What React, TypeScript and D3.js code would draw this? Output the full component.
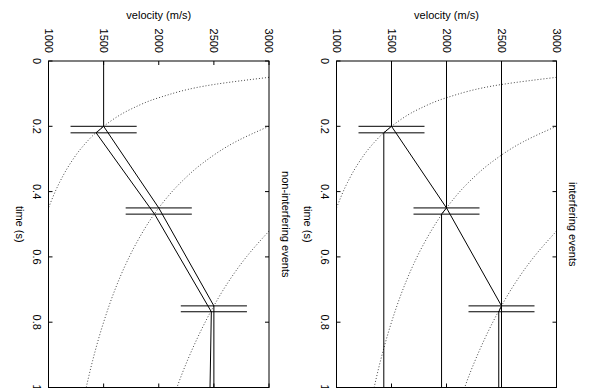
import React from "react";
import * as d3 from "d3";

const W = 590;
const H = 388;

const V_TICKS = [1000, 1500, 2000, 2500, 3000];
const V_LABELS = ["1000", "1500", "2000", "2500", "3000"];
const T_TICKS = [0, 0.2, 0.4, 0.6, 0.8, 1];
const T_LABELS = ["0", "0.2", "0.4", "0.6", "0.8", "1"];

// events (true)
const EVENT_T = [0.2, 0.45, 0.75];
const EVENT_V = [1500, 2000, 2500];
// picked (estimated) events
const PICK_T = [0.22, 0.469, 0.768];
const PICK_V_NONINT = [1432, 1962, 2477];
const PICK_V_INT = [1430, 1955, 2475];
// horizontal error bars
const ERR_LO = [1200, 1700, 2200];
const ERR_HI = [1800, 2300, 2800];

// polyline through the true events
const UPPER_V = [1500, 1500, 2000, 2500, 2500];
const UPPER_T = [0, 0.2, 0.45, 0.75, 1];
// polyline through estimated events (non-interfering)
const NONINT_LOWER_V = [1500, 1432, 1962, 2477, 2465];
const NONINT_LOWER_T = [0.2, 0.22, 0.469, 0.768, 1];

// dotted curves (velocity, time)
const CURVE1_V = [3000, 2500, 2000, 1750, 1500, 1300, 1200, 1100, 1000];
const CURVE1_T = [0.05, 0.072, 0.1125, 0.147, 0.2, 0.266, 0.3125, 0.372, 0.45];
const CURVE2_V = [3000, 2700, 2400, 2200, 2000, 1800, 1700, 1600, 1500, 1400, 1342];
const CURVE2_T = [0.2, 0.247, 0.3125, 0.372, 0.45, 0.556, 0.623, 0.703, 0.8, 0.918, 1.0];
const CURVE3_V = [3000, 2800, 2600, 2500, 2400, 2300, 2200, 2165];
const CURVE3_T = [0.521, 0.598, 0.693, 0.75, 0.814, 0.886, 0.968, 1.0];

const FONT = "'Liberation Sans', Arial, sans-serif";
const TOP = 61;
const BOTTOM = 387.5;

type Pt = [number, number];
const zip = (v: number[], t: number[]): Pt[] => v.map((d, i) => [d, t[i]]);

function Panel({ x0, x1, title, interfering, id }: { x0: number; x1: number; title: string; interfering: boolean; id: string }) {
  const x = d3.scaleLinear().domain([1000, 3000]).range([x0, x1]);
  const y = d3.scaleLinear().domain([0, 1]).range([TOP, BOTTOM]);
  const line = d3.line<Pt>().x((d) => x(d[0])).y((d) => y(d[1]));
  const curve = d3.line<Pt>().x((d) => x(d[0])).y((d) => y(d[1])).curve(d3.curveMonotoneY);
  const midY = (TOP + BOTTOM) / 2;
  const midX = (x0 + x1) / 2;
  const tick = 4;

  const solid: Pt[][] = [];
  solid.push(zip(UPPER_V, UPPER_T));
  if (!interfering) {
    solid.push(zip(NONINT_LOWER_V, NONINT_LOWER_T));
  } else {
    EVENT_V.forEach((v, i) => {
      solid.push([
        [v, 0],
        [v, EVENT_T[i]],
        [PICK_V_INT[i], PICK_T[i]],
        [PICK_V_INT[i], 1],
      ]);
    });
  }
  const bars: Pt[][] = [];
  EVENT_T.forEach((t, i) => {
    bars.push([[ERR_LO[i], t], [ERR_HI[i], t]]);
    bars.push([[ERR_LO[i], PICK_T[i]], [ERR_HI[i], PICK_T[i]]]);
  });

  const curves = [zip(CURVE1_V, CURVE1_T), zip(CURVE2_V, CURVE2_T), zip(CURVE3_V, CURVE3_T)];

  return (
    <g>
      <defs>
        <clipPath id={id}>
          <rect x={x0} y={TOP} width={x1 - x0} height={BOTTOM - TOP} />
        </clipPath>
      </defs>
      <g clipPath={`url(#${id})`}>
        {curves.map((c, i) => (
          <path key={i} d={curve(c) || ""} fill="none" stroke="#444" strokeWidth={1} strokeDasharray="1 2" />
        ))}
        {solid.map((s, i) => (
          <path key={i} d={line(s) || ""} fill="none" stroke="#000" strokeWidth={1} />
        ))}
        {bars.map((s, i) => (
          <path key={i} d={line(s) || ""} fill="none" stroke="#000" strokeWidth={1} />
        ))}
      </g>
      {/* frame */}
      <rect x={x0} y={TOP} width={x1 - x0} height={BOTTOM - TOP} fill="none" stroke="#000" strokeWidth={1} />
      {V_TICKS.map((v, i) => (
        <g key={i}>
          <line x1={x(v)} x2={x(v)} y1={TOP} y2={TOP + tick} stroke="#000" />
          <line x1={x(v)} x2={x(v)} y1={BOTTOM} y2={BOTTOM - tick} stroke="#000" />
          <text
            transform={`translate(${x(v)},53) rotate(90)`}
            textAnchor="end"
            dominantBaseline="central"
            fontSize={11}
            fontFamily={FONT}
          >
            {V_LABELS[i]}
          </text>
        </g>
      ))}
      {T_TICKS.map((t, i) => (
        <g key={i}>
          <line x1={x0} x2={x0 + tick} y1={y(t)} y2={y(t)} stroke="#000" />
          <line x1={x1} x2={x1 - tick} y1={y(t)} y2={y(t)} stroke="#000" />
          <text
            transform={`translate(${x0 - 12},${y(t)}) rotate(90)`}
            textAnchor="middle"
            dominantBaseline="central"
            fontSize={11}
            fontFamily={FONT}
          >
            {T_LABELS[i]}
          </text>
        </g>
      ))}
      <text x={midX} y={19} textAnchor="middle" fontSize={11} fontFamily={FONT}>
        velocity (m/s)
      </text>
      <text
        transform={`translate(${x0 - 29},${midY}) rotate(90)`}
        textAnchor="middle"
        dominantBaseline="central"
        fontSize={11}
        fontFamily={FONT}
      >
        time (s)
      </text>
      <text
        transform={`translate(${x1 + 16.5},${midY}) rotate(90)`}
        textAnchor="middle"
        dominantBaseline="central"
        fontSize={11}
        fontFamily={FONT}
      >
        {title}
      </text>
    </g>
  );
}

export default function App() {
  return (
    <svg
      width={W}
      height={H}
      style={{ position: "absolute", left: 0, top: 0, background: "#fff" }}
    >
      <rect x={0} y={0} width={W} height={H} fill="#fff" />
      <Panel x0={48.5} x1={269} title="non-interfering events" interfering={false} id="clipL" />
      <Panel x0={336.5} x1={556.5} title="interfering events" interfering={true} id="clipR" />
    </svg>
  );
}
